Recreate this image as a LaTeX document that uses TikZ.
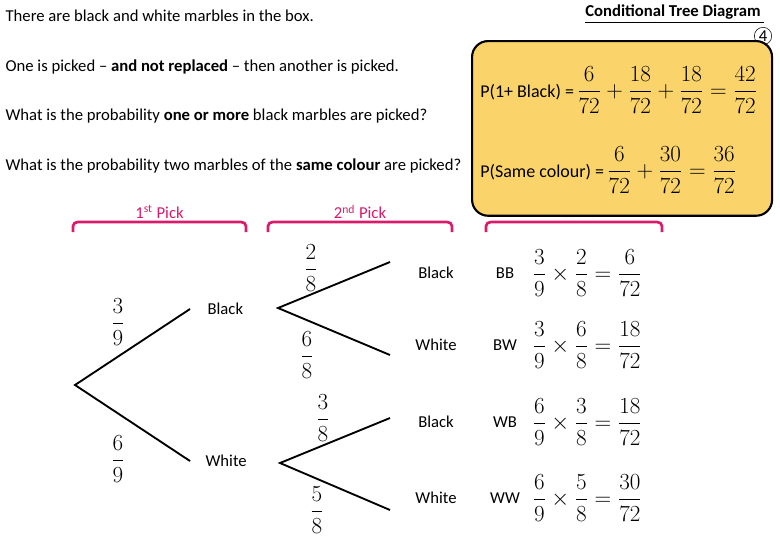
\documentclass[tikz,border=0pt]{standalone}
\usepackage{fontspec}
\setmainfont{Carlito}
\usepackage{amsmath}
\usetikzlibrary{positioning}
\definecolor{pickpink}{HTML}{D81B6A}
\definecolor{boxyellow}{HTML}{FAD46B}
\tikzset{
  txt/.style={font=\fontsize{12.5}{15}\selectfont, inner sep=1pt},
  frac/.style={font=\fontsize{18}{22}\selectfont, inner sep=1pt},
  pickbrace/.style={draw=pickpink, line width=2pt},
  branch/.style={line width=1.4pt}
}
\begin{document}
\begin{tikzpicture}[x=0.75pt, y=-0.75pt]
          \useasboundingbox (0,0) rectangle (780,540);

          % Question text
          \node[txt, anchor=west] (q1) at (4,16) {There are black and white marbles in the box.};
          \node[txt, anchor=west] (q2) at (4,67) {One is picked -- \textbf{and not replaced} -- then another is picked.};
          \node[txt, anchor=west] (q3) at (4,116) {What is the probability \textbf{one or more} black marbles are picked?};
          \node[txt, anchor=west] (q4) at (4,166) {What is the probability two marbles of the \textbf{same colour} are picked?};
          \node[txt, anchor=east] (title) at (766,14) {\textbf{\underline{Conditional Tree Diagram\ }}};
          \node[draw, circle, inner sep=0.5pt, txt] (num) at (763,36) {4};

          % Headers and braces
          \foreach \lab/\xa/\xb in {1\textsuperscript{st} Pick/73/246, 2\textsuperscript{nd} Pick/268/452, Result/486/662} {
            \node[txt, text=pickpink] at ({(\xa+\xb)/2},212) {\lab};
            \draw[pickbrace] (\xa,232) -- (\xa,226) to[out=90,in=180] (\xa+5,222) -- (\xb-5,222) to[out=0,in=90] (\xb,226) -- (\xb,232);
          }

          % Tree
          \coordinate (root) at (75,385);
          \coordinate (b1) at (190,309);
          \coordinate (w1) at (190,461);
          \coordinate (b2) at (278,308);
          \coordinate (w2) at (280,463);
          \draw[branch] (b1) -- (root) -- (w1);
          \draw[branch] (390,262) -- (b2) -- (390,355);
          \draw[branch] (390,418) -- (w2) -- (390,510);
          \node[txt, anchor=west] (blk1) at (206,309) {Black};
          \node[txt, anchor=west] (wht1) at (204,461) {White};

          \node[frac] (f39) at (118,322) {$\dfrac{3}{9}$};
          \node[frac] (f69) at (118,459) {$\dfrac{6}{9}$};
          \node[frac] (f28) at (311,268) {$\dfrac{2}{8}$};
          \node[frac] (f68) at (307,355) {$\dfrac{6}{8}$};
          \node[frac] (f38) at (323,418) {$\dfrac{3}{8}$};
          \node[frac] (f58) at (317,510) {$\dfrac{5}{8}$};

          % Outcomes
          \foreach \y/\col/\out/\res in {273/Black/BB/{\dfrac{3}{9}\times\dfrac{2}{8}=\dfrac{6}{72}},
                                         345/White/BW/{\dfrac{3}{9}\times\dfrac{6}{8}=\dfrac{18}{72}},
                                         422/Black/WB/{\dfrac{6}{9}\times\dfrac{3}{8}=\dfrac{18}{72}},
                                         498/White/WW/{\dfrac{6}{9}\times\dfrac{5}{8}=\dfrac{30}{72}}} {
            \node[txt] at (436,\y) {\col};
            \node[txt] at (505,\y) {\out};
            \node[frac, anchor=west] at (531,\y) {$\res$};
          }

          % Answer box
          \node[draw, line width=1.6pt, fill=boxyellow, rounded corners=12pt, minimum width=225pt, minimum height=131pt, anchor=north west] (ans) at (471,40) {};
          \node[anchor=west, inner sep=0pt] (p1) at (480,90) {\fontsize{13.5}{16}\selectfont P(1+ Black) =\,\fontsize{18}{22}\selectfont$\dfrac{6}{72}+\dfrac{18}{72}+\dfrac{18}{72}=\dfrac{42}{72}$};
          \node[anchor=west, inner sep=0pt] (p2) at (480,170) {\fontsize{13.5}{16}\selectfont P(Same colour) =\,\fontsize{18}{22}\selectfont$\dfrac{6}{72}+\dfrac{30}{72}=\dfrac{36}{72}$};
\end{tikzpicture}
\end{document}
